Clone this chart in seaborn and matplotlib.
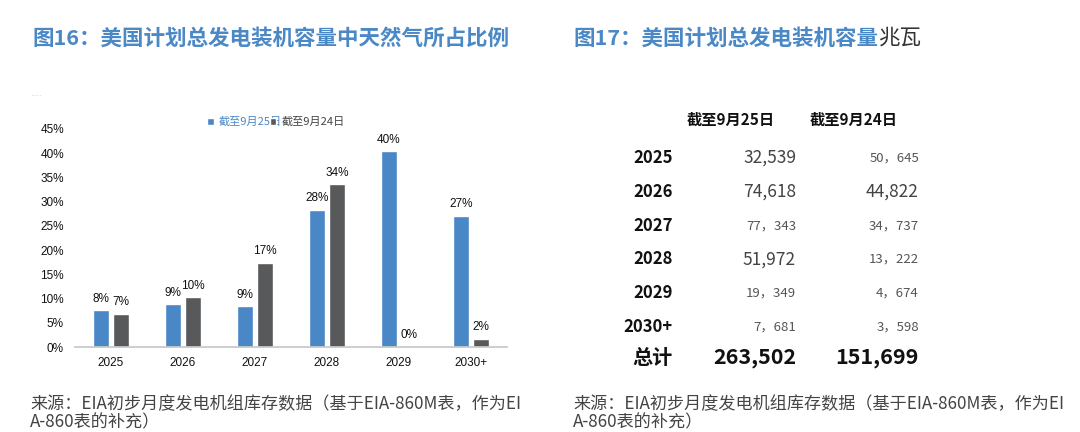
import numpy as np
import pandas as pd
import matplotlib
matplotlib.use("Agg")
import matplotlib.pyplot as plt
import seaborn as sns

# left chart: share of natural gas in planned capacity (%)
years = ["2025", "2026", "2027", "2028", "2029", "2030+"]
series = ["截至9月25日", "截至9月24日"]
share_0925 = [7.6, 8.8, 8.4, 28.3, 40.4, 27.1]
share_0924 = [6.9, 10.3, 17.4, 33.6, 0.0, 1.7]
labels_0925 = ["8%", "9%", "9%", "28%", "40%", "27%"]
labels_0924 = ["7%", "10%", "17%", "34%", "0%", "2%"]

# right table: planned capacity (MW)
cap_0925 = ["32,539", "74,618", "77，343", "51,972", "19，349", "7，681"]
cap_0924 = ["50，645", "44,822", "34，737", "13，222", "4，674", "3，598"]
total_0925 = "263,502"
total_0924 = "151,699"

title_left = "图16：美国计划总发电装机容量中天然气所占比例"
title_right_a = "图17：美国计划总发电装机容量"
title_right_b = "兆瓦"
source = "来源：EIA初步月度发电机组库存数据（基于EIA-860M表，作为EI\nA-860表的补充）"

sns.set_theme(style="white")
plt.rcParams['font.family'] = ['Noto Sans CJK SC', 'DejaVu Sans']

BLUE = "#4a87c6"
GREY = "#58595b"
TBLUE = "#4a88c6"

W, H = 1080, 432
fig = plt.figure(figsize=(W / 100, H / 100), dpi=100)

def fx(px):
    return px / W

def fy(py):
    return 1 - py / H

# ---- bar chart
df = pd.DataFrame({
    "year": years * 2,
    "series": [series[0]] * len(years) + [series[1]] * len(years),
    "value": share_0925 + share_0924,
})
ax = fig.add_axes([fx(75), fy(347), fx(507) - fx(75), fy(129) - fy(347)])
sns.barplot(data=df, x="year", y="value", hue="series", order=years,
            hue_order=series, palette=[BLUE, GREY], width=0.56, gap=0.2,
            saturation=1, ax=ax)
for cont, labs in zip(ax.containers, [labels_0925, labels_0924]):
    ax.bar_label(cont, labels=labs, padding=4, fontsize=8.5, color="#111111",
                 family=['Liberation Sans', 'DejaVu Sans'])
ax.set_ylim(0, 45)
ax.set_xlim(-0.5, len(years) - 0.5)
ax.set_yticks(np.arange(0, 46, 5))
ax.set_yticklabels([f"{v}%" for v in range(0, 46, 5)])
ax.set_xlabel("")
ax.set_ylabel("")
for s in ["top", "right", "left"]:
    ax.spines[s].set_visible(False)
ax.spines["bottom"].set_color("#c8c8c8")
ax.set_xticks(np.arange(-0.5, len(years), 1), minor=True)
ax.tick_params(axis="x", which="major", length=0, pad=7)
ax.tick_params(axis="x", which="minor", length=4, color="#c8c8c8", direction="out")
ax.tick_params(axis="y", length=0, pad=8)
for t in ax.get_xticklabels() + ax.get_yticklabels():
    t.set_family(['Liberation Sans', 'DejaVu Sans'])
    t.set_fontsize(8.5)
    t.set_color("#111111")
handles, _ = ax.get_legend_handles_labels()
leg = ax.legend(handles, series, ncol=2, loc="center", bbox_to_anchor=(0.465, 1.032),
                frameon=False, fontsize=8, columnspacing=-1.1, handlelength=0.6,
                handleheight=0.6, handletextpad=0.45, borderaxespad=0)
leg.get_texts()[0].set_color(BLUE)
leg.get_texts()[1].set_color("#444444")

# ---- table
tax = fig.add_axes([fx(673), fy(377.7), fx(919) - fx(673), fy(107.3) - fy(377.7)])
tax.set_xlim(0, 2)
tax.set_ylim(6.5, -1.5)
tax.axis("off")
for j, h in enumerate(series):
    tax.text(j + 0.47, -1.12, h, ha="center", va="center", fontsize=11,
             fontweight="bold", color="#111111")
for i, y in enumerate(years):
    tax.text(0, i, y, ha="right", va="center", fontsize=12, fontweight="bold",
             color="#111111")
    for j, v in enumerate([cap_0925[i], cap_0924[i]]):
        small = "，" in v
        tax.text(j + 1, i, v, ha="right", va="center",
                 fontsize=9.5 if small else 12.5,
                 color="#555555" if small else "#444444")
tax.text(0, 5.9, "总计", ha="right", va="center", fontsize=14.5,
         fontweight="bold", color="#111111")
for j, v in enumerate([total_0925, total_0924]):
    tax.text(j + 1, 5.9, v, ha="right", va="center", fontsize=15.5,
             fontweight="bold", color="#111111")

# ---- titles and sources
fig.text(fx(32), fy(38), title_left, ha="left", va="center", fontsize=15.5,
         fontweight="bold", color=TBLUE)
ta = fig.text(fx(573), fy(38), title_right_a, ha="left", va="center",
              fontsize=15.5, fontweight="bold", color=TBLUE)
fig.canvas.draw()
bb = ta.get_window_extent(renderer=fig.canvas.get_renderer())
fig.text(bb.x1 / W, fy(38), title_right_b, ha="left", va="center",
         fontsize=15.5, color="#333333")
fig.text(fx(30), fy(94), ".....", ha="left", va="center", fontsize=6,
         color="#c8c8c8")
for x0 in [30, 573]:
    fig.text(fx(x0), fy(413), source, ha="left", va="center", fontsize=12.3,
             color="#444444", linespacing=1.05)

fig.savefig("out.png", dpi=100)
